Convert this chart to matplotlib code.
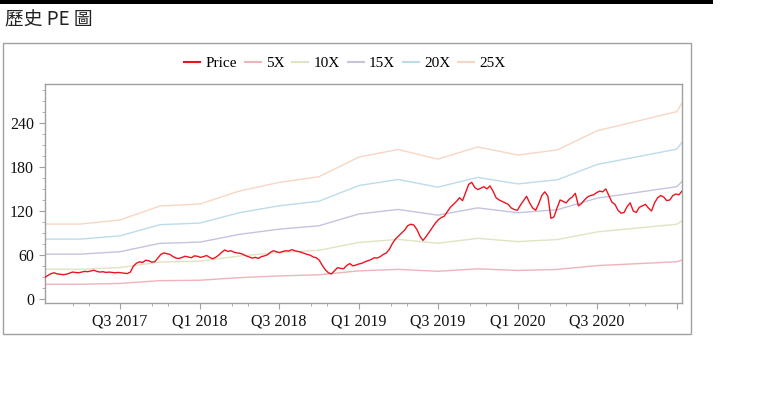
import matplotlib
matplotlib.use("Agg")
import matplotlib.pyplot as plt
import matplotlib.dates as mdates
import matplotlib.patches as mpatches
from matplotlib.ticker import MultipleLocator, FixedLocator
import pandas as pd
import numpy as np

# ---------------- data ----------------
price_start = "2017-01-10"
price = [
    30, 32.5, 35, 36, 34.5, 34, 33.5, 34, 35.5, 37,
    36.5, 36, 37, 38, 37.5, 38.5, 39.5, 38, 37, 37.5,
    36.5, 37, 36.5, 36, 36.5, 36, 35.5, 35, 37, 45,
    49, 51, 50, 53, 52.5, 50.5, 51, 56, 61, 63,
    62, 61, 58, 56, 55.5, 57, 58.5, 57.5, 56.5, 59,
    58.5, 57, 58, 59.5, 57, 55, 57, 60, 64, 67,
    65, 66, 64, 63, 62.5, 61, 59, 57.5, 56, 57,
    55.5, 58, 59, 60.5, 64, 66, 64.5, 63.5, 65, 66,
    65.5, 67.5, 66, 65, 64, 62.5, 61, 60, 57.5, 56.5,
    53, 46, 40, 36, 34.5, 39, 43, 42, 41.5, 46,
    48.5, 45.5, 46.5, 48, 49, 51, 52.5, 54, 56.5, 56,
    58, 61, 63, 68, 76, 82, 86, 90, 94, 100,
    102, 101, 95, 86, 80, 85, 91, 97, 103, 108,
    111, 113, 119, 125, 129, 133, 138, 134, 145, 156,
    159, 152, 149, 151, 153, 150, 154, 147, 138, 135,
    133, 131, 129, 124, 122, 121, 128, 134, 140, 131,
    124, 121, 130, 141, 146, 140, 110, 112, 124, 135,
    133, 131, 136, 139, 144, 127, 130, 135, 139, 141,
    142, 145, 147, 146, 150, 141, 132, 129, 121, 117,
    118, 126, 131, 120, 118, 125, 127, 129, 124, 120,
    131, 138, 141, 139, 134, 135, 141, 143, 142, 147,
]

eps_dates = ["2017-01-10", "2017-04-01", "2017-07-01", "2017-10-01", "2018-01-01",
             "2018-04-01", "2018-07-01", "2018-10-01", "2019-01-01", "2019-04-01",
             "2019-07-01", "2019-10-01", "2020-01-01", "2020-04-01", "2020-07-01",
             "2020-10-01", "2020-12-31", "2021-01-12"]
eps = [4.09, 4.09, 4.31, 5.07, 5.18, 5.88, 6.35, 6.66, 7.73, 8.14,
       7.62, 8.28, 7.84, 8.12, 9.16, 9.68, 10.20, 10.67]

multiples = [5, 10, 15, 20, 25]
band_labels = ["5X", "10X", "15X", "20X", "25X"]

x_tick_dates = ["2017-07-01", "2018-01-01", "2018-07-01", "2019-01-01", "2019-07-01",
                "2020-01-01", "2020-07-01", "2021-01-01"]
x_tick_labels = ["Q3 2017", "Q1 2018", "Q3 2018", "Q1 2019", "Q3 2019",
                 "Q1 2020", "Q3 2020", ""]

title = "歷史 PE 圖"

# ---------------- style ----------------
price_color = "#ec1420"
band_colors = ["#efb3b9", "#e1e3c3", "#c4c4e0", "#bcdcea", "#f7d6c4"]
grey = "#a0a0a0"
serif = ["Liberation Serif", "DejaVu Serif"]

W, H = 772, 397
fig = plt.figure(figsize=(W / 100, H / 100), dpi=100)

# top black bar
fig.patches.append(mpatches.Rectangle((0, 1 - 3.5 / H), 713 / W, 3.5 / H,
                                      transform=fig.transFigure, facecolor="black",
                                      edgecolor="none"))
# outer box
fig.patches.append(mpatches.Rectangle((3 / W, 1 - 334 / H), (691 - 3) / W, (334 - 43) / H,
                                      transform=fig.transFigure, facecolor="none",
                                      edgecolor=grey, linewidth=1.0))

fig.text(5 / W, 1 - 20 / H, title, ha="left", va="center", fontsize=13.5,
         family=["Noto Sans CJK TC", "DejaVu Sans"], color="#222222")

ax = fig.add_axes([45 / W, 1 - 302.7 / H, (682 - 45) / W, (302.7 - 84) / H])

pdates = pd.date_range(price_start, periods=len(price), freq="7D")
edates = pd.to_datetime(eps_dates)

handles = []
lp, = ax.plot(pdates, price, color=price_color, lw=1.0, zorder=5, label="Price")
handles.append(lp)
for m, lab, c in zip(multiples, band_labels, band_colors):
    l, = ax.plot(edates, [e * m for e in eps], color=c, lw=1.0, zorder=2, label=lab)
    handles.append(l)

ax.set_xlim(pd.Timestamp("2017-01-10"), pd.Timestamp("2021-01-12"))
ax.set_ylim(-4.6, 292.5)

ax.yaxis.set_major_locator(MultipleLocator(60))
ax.yaxis.set_minor_locator(MultipleLocator(15))

maj = pd.to_datetime(x_tick_dates)
ax.set_xticks(maj)
ax.set_xticklabels(x_tick_labels)
minor = []
for d in [pd.Timestamp("2017-01-01")] + list(maj):
    minor += [d + pd.Timedelta(days=73), d + pd.Timedelta(days=110)]
minor = [d for d in minor if d <= pd.Timestamp("2021-01-12")]
ax.xaxis.set_minor_locator(FixedLocator(mdates.date2num(minor)))

for s in ax.spines.values():
    s.set_color(grey)
    s.set_linewidth(1.0)
ax.tick_params(which="major", length=4, color=grey, labelsize=11.5, pad=4)
ax.tick_params(which="minor", length=2.5, color=grey)
for lab in ax.get_xticklabels() + ax.get_yticklabels():
    lab.set_family(serif)
    lab.set_color("#111111")

leg = fig.legend(handles=handles, loc="center", bbox_to_anchor=(345 / W, 1 - 63 / H),
                 ncol=6, frameon=False, prop={"family": serif, "size": 11},
                 handlelength=1.05, handletextpad=0.35, columnspacing=0.5)
for l in leg.get_lines():
    l.set_linewidth(1.5)

fig.savefig("out.png", dpi=100)
